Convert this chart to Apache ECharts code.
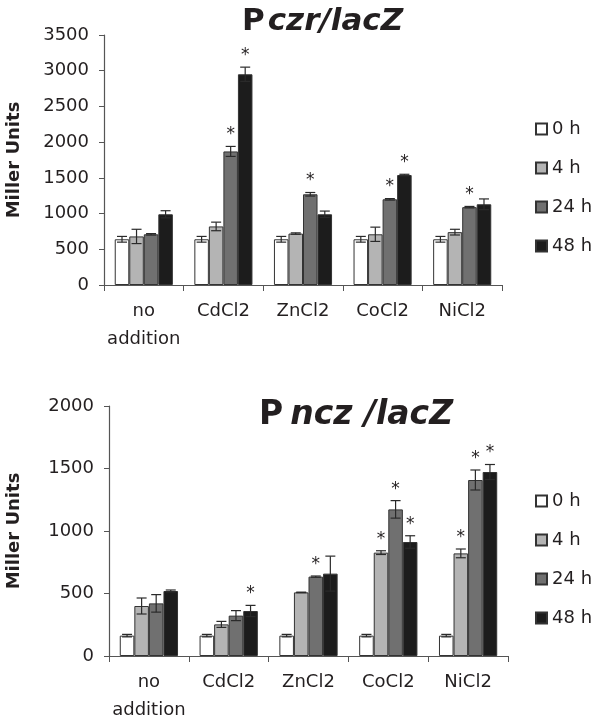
<!DOCTYPE html>
<html>
<head>
<meta charset="utf-8">
<script src="https://cdn.jsdelivr.net/npm/echarts@6/dist/echarts.min.js"></script>
<style>html,body{margin:0;padding:0;background:#fff}#c{width:600px;height:721px}</style>
</head>
<body>
<div id="c"></div>
<script>
// ---- data ----
const categories = ['no\naddition', 'CdCl2', 'ZnCl2', 'CoCl2', 'NiCl2'];
const seriesNames = ['0 h', '4 h', '24 h', '48 h'];

// Pczr/lacZ (top)
const czr0h = [640, 640, 640, 640, 640];
const czr4h = [680, 820, 720, 710, 740];
const czr24h = [710, 1870, 1270, 1200, 1090];
const czr48h = [990, 2950, 990, 1540, 1130];
const czr0hErr = [40, 40, 40, 40, 40];
const czr4hErr = [100, 60, 10, 100, 40];
const czr24hErr = [10, 70, 25, 10, 10];
const czr48hErr = [50, 100, 45, 10, 75];
const czr0hStar = [0, 0, 0, 0, 0];
const czr4hStar = [0, 0, 0, 0, 0];
const czr24hStar = [0, 1, 1, 1, 1];
const czr48hStar = [0, 1, 0, 1, 0];

// Pncz/lacZ (bottom)
const ncz0h = [163, 163, 163, 163, 163];
const ncz4h = [400, 253, 509, 827, 821];
const ncz24h = [421, 323, 635, 1173, 1408];
const ncz48h = [520, 360, 659, 912, 1472];
const ncz0hErr = [10, 10, 10, 10, 10];
const ncz4hErr = [64, 24, 2, 15, 35];
const ncz24hErr = [70, 40, 5, 70, 80];
const ncz48hErr = [8, 45, 140, 50, 60];
const ncz0hStar = [0, 0, 0, 0, 0];
const ncz4hStar = [0, 0, 0, 1, 1];
const ncz24hStar = [0, 0, 1, 1, 1];
const ncz48hStar = [0, 1, 0, 1, 1];

const czrTicks = { min: 0, max: 3500, interval: 500 };
const nczTicks = { min: 0, max: 2000, interval: 500 };

// ---- styling ----
const colors = ['#ffffff', '#b4b4b4', '#707070', '#1c1c1c'];
const FONT = 'DejaVu Sans';
const TXT = '#231f20';
const CAT_GAP = 0.27;
const FS = 18;

const chart = echarts.init(document.getElementById('c'), null, { renderer: 'canvas' });

function barSeries(name, idx, vals, gi) {
  return {
    name: name, type: 'bar', xAxisIndex: gi, yAxisIndex: gi,
    data: vals, barGap: '0%', barCategoryGap: (CAT_GAP * 100) + '%',
    itemStyle: { color: colors[idx], borderColor: '#333', borderWidth: 1 },
    emphasis: { disabled: true }, z: 2
  };
}

function errSeries(idx, vals, errs, stars, gi) {
  const data = vals.map((v, i) => [i, v, errs[i], stars[i]]);
  return {
    name: 'err' + gi + '_' + idx, type: 'custom', xAxisIndex: gi, yAxisIndex: gi,
    data: data, z: 5, silent: true,
    encode: { x: 0, y: 1 },
    renderItem: function (params, api) {
      const cat = api.value(0), v = api.value(1), e = api.value(2), s = api.value(3);
      const band = api.size([1, 0])[0];
      const bw = band * (1 - CAT_GAP) / 4;
      const cx = api.coord([cat, v])[0] + (idx - 1.5) * bw;
      const yTop = api.coord([cat, v + e])[1];
      const yBot = api.coord([cat, v - e])[1];
      const cap = 5;
      const st = { stroke: '#2a2a2a', lineWidth: 1.2 };
      const children = [
        { type: 'line', shape: { x1: cx, y1: yTop, x2: cx, y2: yBot }, style: st },
        { type: 'line', shape: { x1: cx - cap, y1: yTop, x2: cx + cap, y2: yTop }, style: st },
        { type: 'line', shape: { x1: cx - cap, y1: yBot, x2: cx + cap, y2: yBot }, style: st }
      ];
      if (s) {
        children.push({
          type: 'text',
          style: { text: '*', x: cx, y: yTop - 3, align: 'center', verticalAlign: 'bottom',
                   fontSize: 17, fontFamily: FONT, fill: TXT }
        });
      }
      return { type: 'group', children: children };
    }
  };
}

function xAxisCfg(gi) {
  return {
    type: 'category', gridIndex: gi, data: categories,
    axisLine: { lineStyle: { color: '#555', width: 1.2 } },
    axisTick: { show: true, length: 6, lineStyle: { color: '#555' } },
    axisLabel: { fontFamily: FONT, fontSize: FS, color: TXT, margin: 12, lineHeight: 28, interval: 0 }
  };
}
function yAxisCfg(gi, t, gap) {
  return {
    type: 'value', gridIndex: gi, min: t.min, max: t.max, interval: t.interval,
    name: 'Miller Units', nameLocation: 'middle', nameGap: gap,
    nameTextStyle: { fontFamily: FONT, fontWeight: 'bold', fontSize: 18, color: TXT },
    axisLine: { show: true, lineStyle: { color: '#555', width: 1.2 } },
    axisTick: { show: true, length: 5, lineStyle: { color: '#555' } },
    splitLine: { show: false },
    axisLabel: { fontFamily: FONT, fontSize: FS, color: TXT, margin: 15,
                 formatter: function (v) { return String(v); } }
  };
}
function legendCfg(topPos) {
  return {
    data: seriesNames, orient: 'vertical', left: 535, top: topPos, padding: 0,
    icon: 'rect', itemWidth: 11, itemHeight: 11, itemGap: 19,
    textStyle: { fontFamily: FONT, fontSize: FS, color: TXT, lineHeight: 20 },
    selectedMode: false
  };
}

const series = [];
const czrVals = [czr0h, czr4h, czr24h, czr48h];
const czrErrs = [czr0hErr, czr4hErr, czr24hErr, czr48hErr];
const czrStars = [czr0hStar, czr4hStar, czr24hStar, czr48hStar];
const nczVals = [ncz0h, ncz4h, ncz24h, ncz48h];
const nczErrs = [ncz0hErr, ncz4hErr, ncz24hErr, ncz48hErr];
const nczStars = [ncz0hStar, ncz4hStar, ncz24hStar, ncz48hStar];
for (let i = 0; i < 4; i++) series.push(barSeries(seriesNames[i], i, czrVals[i], 0));
for (let i = 0; i < 4; i++) series.push(barSeries(seriesNames[i], i, nczVals[i], 1));
for (let i = 0; i < 4; i++) series.push(errSeries(i, czrVals[i], czrErrs[i], czrStars[i], 0));
for (let i = 0; i < 4; i++) series.push(errSeries(i, nczVals[i], nczErrs[i], nczStars[i], 1));

chart.setOption({
  animation: false,
  backgroundColor: '#fff',
  title: [
    { left: 242, top: 6, padding: 0, text: '{p|P}{i|czr/lacZ}',
      textStyle: { rich: {
        p: { fontFamily: FONT, fontWeight: 'bold', fontSize: 31, color: TXT, padding: [0, 3, 0, 0] },
        i: { fontFamily: FONT, fontWeight: 'bold', fontStyle: 'italic', fontSize: 31, color: TXT }
      } } },
    { left: 259, top: 399, padding: 0, text: '{p|P}{i|ncz /lacZ}',
      textStyle: { rich: {
        p: { fontFamily: FONT, fontWeight: 'bold', fontSize: 33, color: TXT, padding: [0, 7, 0, 0] },
        i: { fontFamily: FONT, fontWeight: 'bold', fontStyle: 'italic', fontSize: 33, color: TXT }
      } } }
  ],
  legend: [legendCfg(119), legendCfg(491)],
  grid: [
    { left: 104, top: 35, width: 398, height: 250, containLabel: false, outerBoundsMode: 'none' },
    { left: 109, top: 406, width: 399, height: 250, containLabel: false, outerBoundsMode: 'none' }
  ],
  xAxis: [xAxisCfg(0), xAxisCfg(1)],
  yAxis: [yAxisCfg(0, czrTicks, 81), yAxisCfg(1, nczTicks, 86)],
  series: series
});
</script>
</body>
</html>
